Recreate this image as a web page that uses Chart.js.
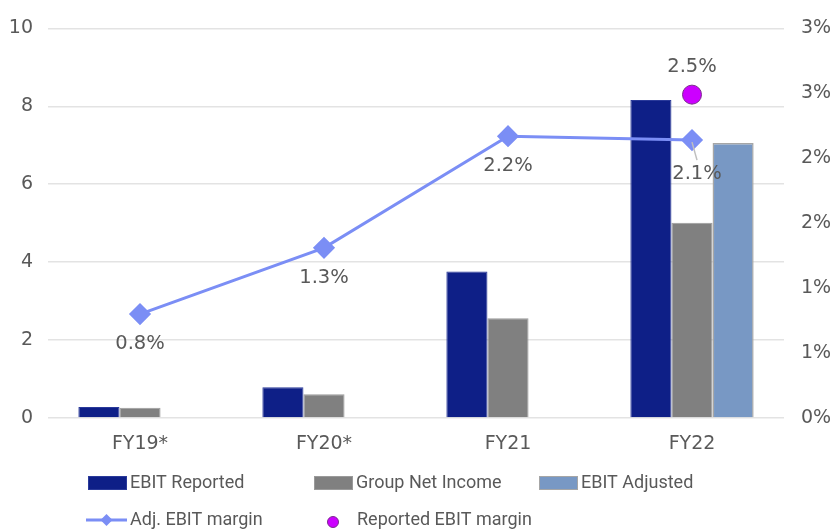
<!DOCTYPE html>
<html>
<head>
<meta charset="utf-8">
<script src="https://cdn.jsdelivr.net/npm/chart.js@4"></script>
<style>
  html, body { margin: 0; padding: 0; background: #ffffff; }
  #wrap { width: 833px; height: 531px; position: relative; }
</style>
</head>
<body>
<div id="wrap"><canvas id="c" width="833" height="531"></canvas></div>
<script>
const categories = ["FY19*", "FY20*", "FY21", "FY22"];
const ebitReported = [0.28, 0.79, 3.76, 8.16];
const groupNetIncome = [0.26, 0.61, 2.56, 5.01];
const ebitAdjusted = [null, null, null, 7.06];
const adjEbitMargin = [0.8, 1.31, 2.17, 2.14];
const adjEbitMarginLabels = ["0.8%", "1.3%", "2.2%", "2.1%"];
const reportedEbitMargin = [null, null, null, 2.49];
const reportedEbitMarginLabels = [null, null, null, "2.5%"];
const leftTicks = [0, 2, 4, 6, 8, 10];
const rightTicks = [0, 0.5, 1, 1.5, 2, 2.5, 3];

const TEXT = "#595959";
const TICK_FONT = { family: "DejaVu Sans", size: 19 };

const labelPlugin = {
  id: "valueLabels",
  afterDatasetsDraw(chart) {
    const ctx = chart.ctx;
    ctx.save();
    ctx.font = "19.5px 'DejaVu Sans'";
    ctx.fillStyle = TEXT;
    ctx.textAlign = "center";
    ctx.textBaseline = "middle";
    const lineMeta = chart.getDatasetMeta(3);
    lineMeta.data.forEach((pt, i) => {
      const txt = adjEbitMarginLabels[i];
      if (!txt) return;
      if (i === 3) {
        ctx.strokeStyle = "#bfbfbf";
        ctx.lineWidth = 1.5;
        ctx.beginPath();
        ctx.moveTo(pt.x, pt.y + 2);
        ctx.lineTo(pt.x + 5, pt.y + 20);
        ctx.stroke();
        ctx.fillText(txt, pt.x + 5, pt.y + 34);
      } else {
        ctx.fillText(txt, pt.x, pt.y + 30);
      }
    });
    const dotMeta = chart.getDatasetMeta(4);
    dotMeta.data.forEach((pt, i) => {
      const txt = reportedEbitMarginLabels[i];
      if (!txt || reportedEbitMargin[i] == null) return;
      ctx.fillText(txt, pt.x, pt.y - 28);
    });
    ctx.restore();
  }
};

const legendPlugin = {
  id: "gridLegend",
  afterDraw(chart) {
    const ctx = chart.ctx;
    const ds = chart.data.datasets;
    ctx.save();
    ctx.font = "18px Roboto";
    ctx.fillStyle = TEXT;
    ctx.textBaseline = "middle";
    ctx.textAlign = "left";
    const cols = [88, 314, 539];
    const row1 = 483, row2 = 520;
    [0, 1, 2].forEach((k, j) => {
      const x = cols[j];
      ctx.fillStyle = ds[k].backgroundColor;
      ctx.fillRect(x, row1 - 7, 39, 14);
      ctx.strokeStyle = ds[k].borderColor;
      ctx.lineWidth = 1;
      ctx.strokeRect(x + 0.5, row1 - 6.5, 38, 13);
      ctx.fillStyle = TEXT;
      ctx.fillText(ds[k].label, x + 42, row1);
    });
    ctx.strokeStyle = ds[3].borderColor;
    ctx.lineWidth = 3;
    ctx.beginPath();
    ctx.moveTo(86, row2);
    ctx.lineTo(127, row2);
    ctx.stroke();
    ctx.fillStyle = ds[3].borderColor;
    ctx.beginPath();
    ctx.moveTo(106.5, row2 - 6);
    ctx.lineTo(112.5, row2);
    ctx.lineTo(106.5, row2 + 6);
    ctx.lineTo(100.5, row2);
    ctx.closePath();
    ctx.fill();
    ctx.fillStyle = TEXT;
    ctx.fillText(ds[3].label, 130, row2);
    ctx.fillStyle = ds[4].backgroundColor;
    ctx.strokeStyle = ds[4].borderColor;
    ctx.lineWidth = 1;
    ctx.beginPath();
    ctx.arc(333, row2 + 2, 5.5, 0, Math.PI * 2);
    ctx.fill();
    ctx.stroke();
    ctx.fillStyle = TEXT;
    ctx.fillText(ds[4].label, 357, row2);
    ctx.restore();
  }
};

new Chart(document.getElementById("c"), {
  data: {
    labels: categories,
    datasets: [
      { type: "bar", label: "EBIT Reported", data: ebitReported, yAxisID: "y",
        backgroundColor: "#0e1f87", borderColor: "#2a3a9a", borderWidth: 1, order: 3 },
      { type: "bar", label: "Group Net Income", data: groupNetIncome, yAxisID: "y",
        backgroundColor: "#808080", borderColor: "#9a9a9a", borderWidth: 1, order: 3 },
      { type: "bar", label: "EBIT Adjusted", data: ebitAdjusted, yAxisID: "y",
        backgroundColor: "#7898c4", borderColor: "#a6a6a6", borderWidth: 1.5, order: 3 },
      { type: "line", label: "Adj. EBIT margin", data: adjEbitMargin, yAxisID: "y1",
        borderColor: "#7b8ef5", backgroundColor: "#7b8ef5", borderWidth: 3,
        pointStyle: "rectRot", pointRadius: 9, pointHoverRadius: 9, tension: 0, order: 1 },
      { type: "line", label: "Reported EBIT margin", data: reportedEbitMargin, yAxisID: "y1",
        showLine: false, borderColor: "#7a2a8e", backgroundColor: "#cc00ff", borderWidth: 1,
        pointStyle: "circle", pointRadius: 9.5, pointHoverRadius: 9.5, order: 0 }
    ]
  },
  options: {
    responsive: false,
    animation: false,
    events: [],
    layout: { padding: { top: 27, bottom: 73, left: 0, right: 0 } },
    datasets: { bar: { categoryPercentage: 0.67, barPercentage: 1.0 } },
    plugins: { legend: { display: false }, tooltip: { enabled: false } },
    scales: {
      x: {
        grid: { display: false },
        border: { display: false },
        ticks: { color: TEXT, font: TICK_FONT, padding: 7 },
        afterFit(s) { s.height = 40; }
      },
      y: {
        position: "left",
        min: 0, max: 10,
        afterBuildTicks(s) { s.ticks = leftTicks.map(v => ({ value: v })); },
        grid: { color: "#e3e3e3", lineWidth: 1.5, drawTicks: false },
        border: { display: false },
        ticks: { color: TEXT, font: TICK_FONT, padding: 15 },
        afterFit(s) { s.width = 48; }
      },
      y1: {
        position: "right",
        min: 0, max: 3,
        afterBuildTicks(s) { s.ticks = rightTicks.map(v => ({ value: v })); },
        grid: { display: false, drawTicks: false },
        border: { display: false },
        ticks: { color: TEXT, font: TICK_FONT, padding: 17,
          callback: v => Math.round(v + 0.0001) + "%" },
        afterFit(s) { s.width = 49; }
      }
    }
  },
  plugins: [labelPlugin, legendPlugin]
});
</script>
</body>
</html>
